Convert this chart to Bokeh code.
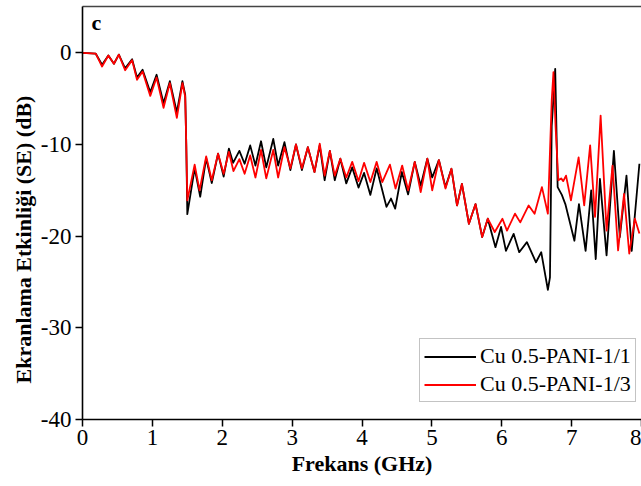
from bokeh.plotting import figure
from bokeh.models import LinearAxis, Label, Range1d, Title
from bokeh.embed import file_html
from bokeh.resources import INLINE

# Series: Cu 0.5-PANI-1/1 (black)
black_x = [0, 0.19, 0.28, 0.37, 0.45, 0.52, 0.61, 0.71, 0.78, 0.86, 0.97, 1.06, 1.16, 1.25, 1.35, 1.43, 1.47, 1.485, 1.50,
           1.605, 1.685, 1.77, 1.85, 1.94, 2.02, 2.095, 2.155, 2.245, 2.32, 2.40, 2.475, 2.555, 2.63, 2.73, 2.80,
           2.89, 2.975, 3.055, 3.14, 3.225, 3.32, 3.395, 3.465, 3.54, 3.61, 3.69, 3.775, 3.86, 3.95, 4.03, 4.12,
           4.21, 4.35, 4.415, 4.475, 4.57, 4.66, 4.755, 4.84, 4.935, 5.005, 5.10, 5.195, 5.28, 5.36, 5.43, 5.53,
           5.625, 5.72, 5.80, 5.91, 5.99, 6.06, 6.17, 6.25, 6.36, 6.49, 6.565, 6.66, 6.69, 6.715, 6.765, 6.80,
           6.86, 6.91, 7.04, 7.105, 7.20, 7.28, 7.345, 7.405, 7.50, 7.605, 7.69, 7.785, 7.86, 7.97]
black_y = [0, -0.1, -1.3, -0.3, -1.2, -0.2, -1.7, -0.7, -2.7, -1.85, -4.3, -2.4, -5.5, -3.1, -6.5, -3.1, -4.6, -10.0, -17.6,
           -12.6, -15.7, -11.5, -14.2, -11.0, -13.5, -10.45, -12.0, -10.7, -12.1, -10.1, -12.3, -9.65, -12.5, -9.4, -12.3,
           -9.75, -12.8, -10.0, -12.8, -10.3, -13.0, -10.1, -13.9, -10.7, -13.9, -11.55, -14.25, -12.5, -14.7, -13.1, -15.5,
           -12.6, -16.8, -15.9, -17.0, -13.0, -15.45, -11.9, -14.5, -11.55, -13.6, -11.7, -14.65, -12.65, -16.65, -14.3, -18.65,
           -16.5, -20.1, -18.1, -21.2, -19.0, -21.6, -19.75, -21.75, -20.65, -22.85, -21.75, -25.85, -24.5, -8.0, -1.75, -14.65,
           -15.5, -16.5, -20.5, -16.5, -21.6, -15.0, -22.5, -13.75, -22.1, -10.7, -20.1, -13.4, -21.6, -12.1]

# Series: Cu 0.5-PANI-1/3 (red)
red_x = [0, 0.19, 0.28, 0.37, 0.45, 0.52, 0.61, 0.71, 0.78, 0.86, 0.97, 1.06, 1.16, 1.25, 1.35, 1.43, 1.47, 1.485, 1.50,
         1.605, 1.675, 1.77, 1.85, 1.94, 2.02, 2.095, 2.16, 2.245, 2.32, 2.40, 2.475, 2.555, 2.63, 2.73, 2.80,
         2.89, 2.975, 3.055, 3.14, 3.225, 3.32, 3.395, 3.465, 3.54, 3.61, 3.69, 3.775, 3.86, 3.95, 4.03, 4.12,
         4.21, 4.29, 4.40, 4.48, 4.575, 4.66, 4.755, 4.84, 4.935, 5.005, 5.10, 5.195, 5.28, 5.36, 5.43, 5.53,
         5.625, 5.72, 5.80, 5.90, 6.01, 6.075, 6.19, 6.265, 6.385, 6.47, 6.575, 6.66, 6.715, 6.74, 6.77, 6.81,
         6.85, 6.88, 6.92, 6.99, 7.10, 7.18, 7.265, 7.335, 7.415, 7.50, 7.585, 7.665, 7.75, 7.825, 7.905, 7.97]
red_y = [0, -0.1, -1.5, -0.3, -1.2, -0.2, -1.9, -0.8, -2.95, -2.05, -4.7, -2.7, -6.0, -3.3, -7.1, -3.3, -4.8, -10.0, -16.1,
         -12.2, -15.0, -11.3, -13.9, -11.0, -13.2, -10.8, -12.9, -11.6, -13.2, -11.2, -13.6, -10.6, -13.7, -10.6, -13.6,
         -10.3, -12.6, -10.0, -12.6, -10.3, -13.0, -9.9, -13.4, -10.7, -13.4, -11.55, -13.6, -11.9, -14.0, -12.0, -14.1,
         -11.9, -14.1, -12.2, -14.8, -12.3, -15.0, -11.9, -15.2, -11.55, -15.0, -11.7, -14.8, -12.65, -16.65, -14.3, -18.65,
         -16.5, -20.1, -18.1, -19.55, -18.1, -19.4, -17.55, -18.5, -16.65, -17.55, -14.65, -17.55, -5.2, -2.1, -8.0, -13.9,
         -13.7, -14.0, -13.4, -16.1, -11.4, -16.65, -10.1, -17.9, -6.85, -19.4, -12.3, -21.55, -15.4, -21.9, -18.1, -19.7]

x_ticks = [0, 1, 2, 3, 4, 5, 6, 7, 8]
y_ticks = [-40, -30, -20, -10, 0]
y_tick_labels = ["-40", "-30", "-20", "-10", "0"]
series_labels = ["Cu 0.5-PANI-1/1", "Cu 0.5-PANI-1/3"]
x_title = "Frekans (GHz)"
y_title = "Ekranlama Etkinliği (SE) (dB)"
panel_letter = "c"

FONT = "Liberation Serif"

p = figure(width=641, height=486, output_backend="svg", toolbar_location=None,
           x_range=Range1d(0, 8.0), y_range=Range1d(-40, 5.05),
           min_border_left=82, min_border_right=0, min_border_top=6, min_border_bottom=67)
p.outline_line_color = None
p.grid.visible = False
p.background_fill_color = "white"
p.border_fill_color = "white"

p.line(black_x, black_y, line_color="black", line_width=1.8, line_join="round", legend_label=series_labels[0])
p.line(red_x, red_y, line_color="#ff0000", line_width=1.8, line_join="round", legend_label=series_labels[1])

for ax in (p.xaxis[0], p.yaxis[0]):
    ax.axis_line_color = "black"
    ax.axis_line_width = 1.6
    ax.major_tick_line_color = "black"
    ax.major_tick_line_width = 1.5
    ax.major_tick_out = 7
    ax.major_tick_in = 0
    ax.minor_tick_line_color = None
    ax.major_label_text_font = FONT
    ax.major_label_text_font_size = "23px"
    ax.major_label_text_color = "black"
    ax.axis_label_text_font = FONT
    ax.axis_label_text_font_size = "22px"
    ax.axis_label_text_font_style = "bold"
    ax.axis_label_text_color = "black"

p.xaxis[0].ticker = x_ticks
p.yaxis[0].ticker = y_ticks
p.yaxis[0].major_label_overrides = {t: s for t, s in zip(y_ticks, y_tick_labels)}
p.xaxis[0].axis_label = x_title
p.xaxis[0].major_label_standoff = 3
p.xaxis[0].axis_label_standoff = 3
p.yaxis[0].major_label_standoff = 4

top = LinearAxis(ticker=[], axis_line_color="#444444", axis_line_width=1.6,
                 major_label_text_font_size="0px", major_tick_line_color=None, minor_tick_line_color=None)
p.add_layout(top, "above")

# vertical y-axis title, sitting a little below the frame centre as in the reference
p.add_layout(Title(text=y_title, align="left", offset=36, text_font=FONT, text_font_size="22px",
                   text_font_style="bold", text_color="black", standoff=4), "left")

p.add_layout(Label(x=0.13, y=3.3, text=panel_letter, text_font=FONT, text_font_size="22px",
                   text_font_style="bold", text_color="black", text_baseline="middle", text_align="left"))

lg = p.legend[0]
lg.location = (337, 17)
lg.label_text_font = FONT
lg.label_text_font_size = "22px"
lg.label_text_color = "black"
lg.border_line_color = "#888888"
lg.border_line_width = 1.5
lg.background_fill_alpha = 1.0
lg.padding = 4
lg.spacing = 2
lg.margin = 0
lg.glyph_width = 52
lg.glyph_height = 23
lg.label_height = 23
lg.label_standoff = 4

open("out.html", "w").write(file_html(p, INLINE))
